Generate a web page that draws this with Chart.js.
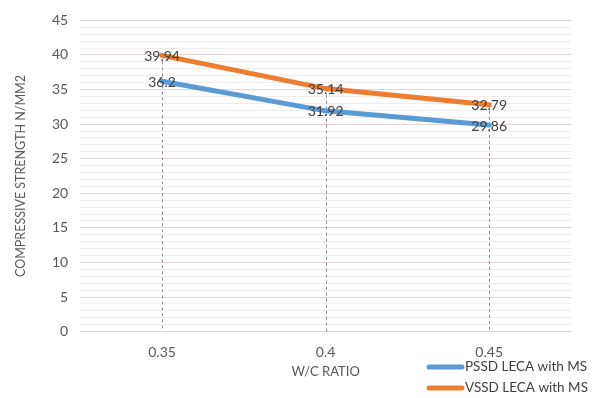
<!DOCTYPE html>
<html>
<head>
<meta charset="utf-8">
<script src="https://cdn.jsdelivr.net/npm/chart.js@4/dist/chart.umd.min.js"></script>
<style>
  html, body { margin: 0; padding: 0; background: #fff; }
  #wrap { width: 593px; height: 398px; }
</style>
</head>
<body>
<div id="wrap"><canvas id="c" width="593" height="398"></canvas></div>
<script>
const categories = ['0.35', '0.4', '0.45'];
const pssdValues = [36.2, 31.92, 29.86];
const vssdValues = [39.94, 35.14, 32.79];
const seriesNames = ['PSSD LECA with MS', 'VSSD LECA with MS'];
const seriesColors = ['#5B9BD5', '#ED7D31'];

const FONT = 'Lato, "Open Sans", sans-serif';
const TEXT = '#595959';

// Dashed drop lines from the highest point of each category down to the axis
const dropLines = {
  id: 'dropLines',
  beforeDatasetsDraw(chart) {
    const { ctx, chartArea, scales } = chart;
    ctx.save();
    ctx.strokeStyle = '#8c8c8c';
    ctx.lineWidth = 1;
    ctx.setLineDash([3, 3]);
    categories.forEach((c, i) => {
      const top = Math.max(...chart.data.datasets.map(d => d.data[i]));
      const x = Math.round(scales.x.getPixelForValue(i)) + 0.5;
      ctx.beginPath();
      ctx.moveTo(x, scales.y.getPixelForValue(top));
      ctx.lineTo(x, chartArea.bottom);
      ctx.stroke();
    });
    ctx.restore();
  }
};

// Value labels centred on each point
const valueLabels = {
  id: 'valueLabels',
  afterDatasetsDraw(chart) {
    const { ctx } = chart;
    ctx.save();
    ctx.font = '14px ' + FONT;
    ctx.fillStyle = '#404040';
    ctx.textAlign = 'center';
    ctx.textBaseline = 'middle';
    chart.data.datasets.forEach((ds, di) => {
      chart.getDatasetMeta(di).data.forEach((pt, i) => {
        ctx.fillText(String(ds.data[i]), pt.x, pt.y + 1);
      });
    });
    ctx.restore();
  }
};

// Legend stacked in the lower right corner
const cornerLegend = {
  id: 'cornerLegend',
  afterDraw(chart) {
    const { ctx } = chart;
    ctx.save();
    ctx.font = '13.5px ' + FONT;
    ctx.textBaseline = 'middle';
    ctx.textAlign = 'left';
    const x0 = 429, x1 = 462, ys = [367, 388];
    seriesNames.forEach((name, i) => {
      ctx.strokeStyle = seriesColors[i];
      ctx.lineWidth = 5;
      ctx.lineCap = 'round';
      ctx.beginPath();
      ctx.moveTo(x0, ys[i]);
      ctx.lineTo(x1, ys[i]);
      ctx.stroke();
      ctx.fillStyle = '#404040';
      ctx.fillText(name, x1 + 3, ys[i]);
    });
    ctx.restore();
  }
};

new Chart(document.getElementById('c'), {
  type: 'line',
  data: {
    labels: categories,
    datasets: [
      { label: seriesNames[0], data: pssdValues, borderColor: seriesColors[0], backgroundColor: seriesColors[0], borderWidth: 5, pointRadius: 0, tension: 0, borderCapStyle: 'round', borderJoinStyle: 'round' },
      { label: seriesNames[1], data: vssdValues, borderColor: seriesColors[1], backgroundColor: seriesColors[1], borderWidth: 5, pointRadius: 0, tension: 0, borderCapStyle: 'round', borderJoinStyle: 'round' }
    ]
  },
  options: {
    responsive: false,
    animation: false,
    devicePixelRatio: 1,
    layout: { padding: { left: 13, right: 22, top: 10, bottom: 18 } },
    plugins: {
      legend: { display: false },
      tooltip: { enabled: false }
    },
    scales: {
      x: {
        offset: true,
        grid: { display: false },
        border: { display: false },
        ticks: { color: TEXT, font: { family: FONT, size: 14 }, padding: 4 },
        title: { display: true, text: 'W/C RATIO', color: TEXT, font: { family: FONT, size: 13 }, padding: { top: 0, bottom: 0 } }
      },
      y: {
        min: 0, max: 45,
        border: { display: false },
        grid: {
          drawTicks: false,
          color: ctx => (ctx.tick && ctx.tick.value % 5 === 0) ? '#e3d5d5' : '#f1ecec',
          lineWidth: 1
        },
        ticks: {
          stepSize: 1,
          autoSkip: false,
          padding: 12,
          color: TEXT,
          font: { family: FONT, size: 14 },
          callback: v => (v % 5 === 0 ? String(v) : '')
        },
        title: { display: true, text: 'COMPRESSIVE STRENGTH N/MM2', color: TEXT, font: { family: FONT, size: 12.5 }, padding: { top: 0, bottom: 12 } }
      }
    }
  },
  plugins: [dropLines, valueLabels, cornerLegend]
});
</script>
</body>
</html>
